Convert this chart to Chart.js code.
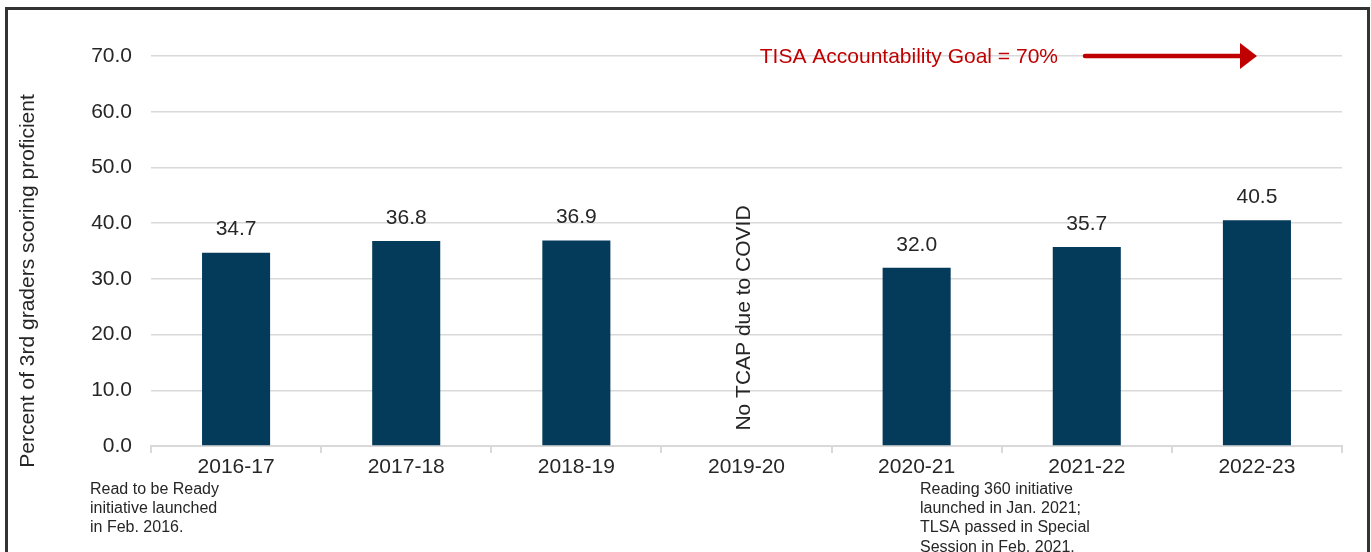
<!DOCTYPE html>
<html>
<head>
<meta charset="utf-8">
<script src="https://cdn.jsdelivr.net/npm/chart.js@4.4.1/dist/chart.umd.min.js"></script>
<style>
  html, body { margin: 0; padding: 0; background: #fff; overflow: hidden; }
  #wrap { position: relative; width: 1371px; height: 552px; }
  #frame {
    position: absolute; left: 5px; top: 7px; width: 1359px; height: 620px;
    border: 3px solid #333; box-sizing: content-box; pointer-events: none;
  }
  canvas { position: absolute; left: 0; top: 0; }
</style>
</head>
<body>
<div id="wrap">
  <canvas id="c" width="1371" height="552"></canvas>
  <div id="frame"></div>
</div>
<script>
// School years and share of 3rd graders scoring proficient (TCAP ELA)
const years = ["2016-17", "2017-18", "2018-19", "2019-20", "2020-21", "2021-22", "2022-23"];
const proficient = [34.7, 36.8, 36.9, null, 32.0, 35.7, 40.5];
const yTicks = [0, 10, 20, 30, 40, 50, 60, 70];
const goalValue = 70;
const goalLabel = "TISA Accountability Goal = 70%";
const missingYear = "2019-20";
const missingNote = "No TCAP due to COVID";
const yTitle = "Percent of 3rd graders scoring proficient";
const noteFirst = ["Read to be Ready", "initiative launched", "in Feb. 2016."];
const noteSecond = ["Reading 360 initiative", "launched in Jan. 2021;", "TLSA passed in Special", "Session in Feb. 2021."];

const FONT = "'Liberation Sans', Arial, Helvetica, sans-serif";
const TEXT = "#262626";
const RED = "#c00000";
const BAR = "#043a5a";

const extras = {
  id: "extras",
  afterDatasetsDraw(chart) {
    const ctx = chart.ctx;
    const xs = chart.scales.x, ys = chart.scales.y;
    ctx.save();

    // value labels above each bar
    ctx.fillStyle = TEXT;
    ctx.font = "21px " + FONT;
    ctx.textAlign = "center";
    ctx.textBaseline = "middle";
    chart.getDatasetMeta(0).data.forEach((bar, i) => {
      const v = proficient[i];
      if (v === null) return;
      ctx.fillText(v.toFixed(1), bar.x, bar.y - 23);
    });

    // y axis title
    ctx.save();
    ctx.translate(28, 281);
    ctx.rotate(-Math.PI / 2);
    ctx.fillText(yTitle, 0, 0);
    ctx.restore();

    // note for the year without testing
    const mx = xs.getPixelForValue(years.indexOf(missingYear));
    ctx.save();
    ctx.translate(mx - 2, 318);
    ctx.rotate(-Math.PI / 2);
    ctx.fillText(missingNote, 0, 0);
    ctx.restore();

    // accountability goal label and arrow
    const gy = ys.getPixelForValue(goalValue);
    ctx.fillStyle = RED;
    ctx.textAlign = "right";
    ctx.fillText(goalLabel, 1058, gy + 1);
    ctx.strokeStyle = RED;
    ctx.lineWidth = 4.5;
    ctx.lineCap = "round";
    ctx.beginPath();
    ctx.moveTo(1085, gy);
    ctx.lineTo(1242, gy);
    ctx.stroke();
    ctx.beginPath();
    ctx.moveTo(1240, gy - 13);
    ctx.lineTo(1257, gy);
    ctx.lineTo(1240, gy + 13);
    ctx.closePath();
    ctx.fill();

    // footnotes under the category axis
    ctx.fillStyle = TEXT;
    ctx.font = "16px " + FONT;
    ctx.textAlign = "left";
    ctx.textBaseline = "alphabetic";
    noteFirst.forEach((t, i) => ctx.fillText(t, 90, 494 + i * 19.2));
    noteSecond.forEach((t, i) => ctx.fillText(t, 920, 494 + i * 19.2));

    ctx.restore();
  }
};

new Chart(document.getElementById("c"), {
  type: "bar",
  data: {
    labels: years,
    datasets: [{
      data: proficient,
      backgroundColor: BAR,
      borderWidth: 0,
      categoryPercentage: 1.0,
      barPercentage: 0.4
    }]
  },
  options: {
    responsive: false,
    devicePixelRatio: 1,
    animation: false,
    layout: { padding: { top: 56, right: 29, bottom: 0, left: 0 } },
    plugins: { legend: { display: false }, tooltip: { enabled: false } },
    scales: {
      x: {
        afterFit(scale) { scale.height = 106; },
        grid: {
          offset: true,
          drawOnChartArea: false,
          drawTicks: true,
          tickLength: 7,
          color: "#d9d9d9",
          lineWidth: 2
        },
        border: { color: "#d9d9d9", width: 2 },
        ticks: {
          color: TEXT,
          font: { family: FONT, size: 21 },
          padding: 2,
          maxRotation: 0,
          autoSkip: false
        }
      },
      y: {
        min: 0,
        max: 70,
        afterFit(scale) { scale.width = 151; },
        afterBuildTicks(scale) { scale.ticks = yTicks.map(v => ({ value: v })); },
        grid: { color: "#d9d9d9", lineWidth: 1.5, drawTicks: false },
        border: { display: false },
        ticks: {
          color: TEXT,
          font: { family: FONT, size: 21 },
          padding: 19,
          callback: v => Number(v).toFixed(1)
        }
      }
    }
  },
  plugins: [extras]
});
</script>
</body>
</html>
